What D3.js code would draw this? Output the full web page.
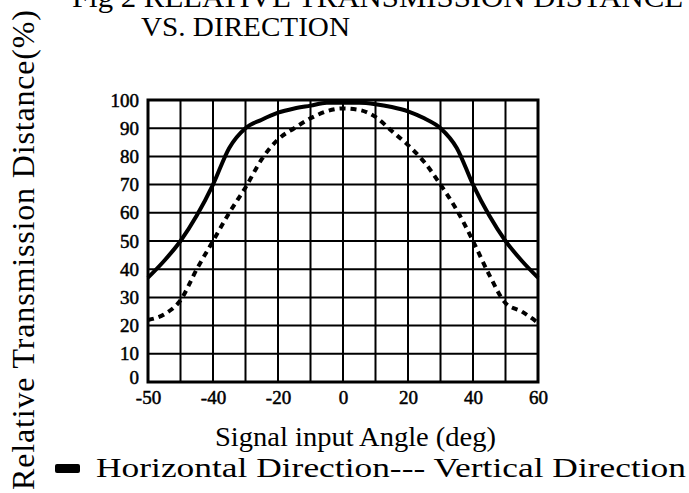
<!DOCTYPE html>
<html>
<head>
    <meta charset="UTF-8">
    <style>
        body {
            margin: 0;
            background: #ffffff;
        }
    </style>
</head>
<body>
    <div class="vis"><svg width="689" height="493"></svg></div>
    <script src="https://cdnjs.cloudflare.com/ajax/libs/d3/7.8.5/d3.min.js"></script>
    <script>
        // angle (deg) read every 5 degrees
        var angles = [-60, -55, -50, -45, -40, -35, -30, -25, -20, -15, -10, -5, 0, 5, 10, 15, 20, 25, 30, 35, 40, 45, 50, 55, 60];
        var horizontal = [37, 43, 50, 59, 70, 83, 90, 93, 95.5, 97, 98, 99, 99, 99, 98.5, 97.5, 96, 93.5, 90, 83, 70, 59, 50, 43, 37];
        var vertical = [22, 24, 29, 40, 50, 60, 69, 79, 86, 90, 93.5, 96, 97, 96.5, 94, 89, 84, 78, 70, 61, 50, 38, 28, 25, 21];

        var xGrid = [-50, -40, -30, -20, -10, 0, 10, 20, 30, 40, 50];
        var xTicks = [-60, -40, -20, 0, 20, 40, 60];
        var xTickLabels = ["-50", "-40", "-20", "0", "20", "40", "60"];   // as printed in the original
        var yTicks = [0, 10, 20, 30, 40, 50, 60, 70, 80, 90, 100];

        var svg = d3.select('.vis svg');

        var x = d3.scaleLinear().domain([-60, 60]).range([148, 538]);
        var y = d3.scaleLinear().domain([0, 100]).range([382, 100]);

        // grid
        svg.selectAll('line.vgrid')
            .data(xGrid)
            .enter()
            .append('line')
            .attr('class', 'vgrid')
            .attr('x1', d => x(d)).attr('x2', d => x(d))
            .attr('y1', y(0)).attr('y2', y(100))
            .attr('stroke', '#000').attr('stroke-width', 2);

        svg.selectAll('line.hgrid')
            .data(yTicks.slice(1, -1))
            .enter()
            .append('line')
            .attr('class', 'hgrid')
            .attr('x1', x(-60)).attr('x2', x(60))
            .attr('y1', d => y(d)).attr('y2', d => y(d))
            .attr('stroke', '#000').attr('stroke-width', 2);

        svg.append('rect')
            .attr('x', x(-60)).attr('y', y(100))
            .attr('width', x(60) - x(-60)).attr('height', y(0) - y(100))
            .attr('fill', 'none').attr('stroke', '#000').attr('stroke-width', 3);

        // axes (labels only, the frame is the border)
        var yAxis = svg.append('g')
            .attr('transform', `translate(${x(-60)},0)`)
            .call(d3.axisLeft(y).tickValues(yTicks).tickSize(0).tickPadding(9));
        var xAxis = svg.append('g')
            .attr('transform', `translate(0,${y(0)})`)
            .call(d3.axisBottom(x).tickValues(xTicks).tickSize(0).tickPadding(9)
                .tickFormat((d, i) => xTickLabels[i]));
        [xAxis, yAxis].forEach(function (g) {
            g.attr('font-family', 'Liberation Serif').attr('font-size', null);
            g.select('.domain').remove();
            g.selectAll('text')
                .style('font-family', '"Liberation Serif"')
                .style('font-size', '19px')
                .attr('fill', '#000')
                .attr('stroke', '#000').attr('stroke-width', 0.5);
        });
        yAxis.selectAll('text').filter(d => d === 0).attr('dy', '0.1em');

        var line = d3.line()
            .x((d, i) => x(angles[i]))
            .y(d => y(d))
            .curve(d3.curveMonotoneX);

        svg.append('path')
            .attr('d', line(vertical))
            .attr('fill', 'none').attr('stroke', '#000')
            .attr('stroke-width', 4).attr('stroke-dasharray', '6,5');

        svg.append('path')
            .attr('d', line(horizontal))
            .attr('fill', 'none').attr('stroke', '#000')
            .attr('stroke-width', 4);

        function label(xp, yp, size, len, str) {
            return svg.append('text')
                .attr('x', xp).attr('y', yp)
                .style('font-family', '"Liberation Serif"')
                .style('font-size', size + 'px')
                .attr('fill', '#000')
                .attr('textLength', len).attr('lengthAdjust', 'spacingAndGlyphs')
                .text(str);
        }

        // titles (first line is cut by the top edge, as in the scan)
        label(72, 7, 29, 611, 'Fig 2 RELATIVE TRANSMISSION DISTANCE');
        label(141, 36, 28, 209, 'VS. DIRECTION');

        label(0, 0, 32, 480, 'Relative Transmission Distance(%)')
            .attr('transform', 'translate(34,490) rotate(-90)')
            .attr('lengthAdjust', 'spacing');

        label(215, 446, 27, 281, 'Signal input Angle (deg)');

        // legend
        svg.append('rect')
            .attr('x', 55).attr('y', 464)
            .attr('width', 25).attr('height', 9)
            .attr('rx', 2)
            .attr('fill', '#000');
        label(96, 477, 28, 590, 'Horizontal Direction--- Vertical Direction');
    </script>
</body>
</html>
